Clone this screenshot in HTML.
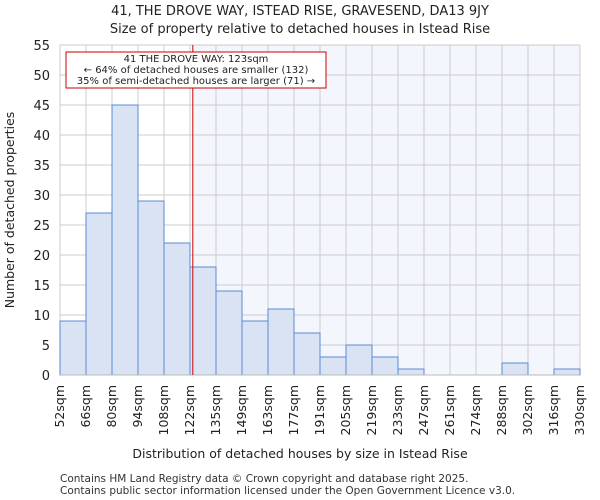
<!DOCTYPE html>
<html><head><meta charset="utf-8"><style>body{margin:0;background:#fff}svg{display:block;font-family:"DejaVu Sans","Liberation Sans",sans-serif}</style></head>
<body>
<svg id="c" width="600" height="500">
<text x="300" y="15" text-anchor="middle" font-size="13" fill="#222">41, THE DROVE WAY, ISTEAD RISE, GRAVESEND, DA13 9JY</text>
<text x="300" y="33" text-anchor="middle" font-size="13" fill="#222">Size of property relative to detached houses in Istead Rise</text>
<text x="300" y="458" text-anchor="middle" font-size="12.5" fill="#222">Distribution of detached houses by size in Istead Rise</text>
<text transform="translate(14,210) rotate(-90)" text-anchor="middle" font-size="12.5" fill="#222">Number of detached properties</text>
<text x="60" y="482" font-size="10.5" fill="#333">Contains HM Land Registry data © Crown copyright and database right 2025.</text>
<text x="60" y="494" font-size="10.5" fill="#333">Contains public sector information licensed under the Open Government Licence v3.0.</text>
<g id="plot"></g>
</svg>
<script>
const labels=["52sqm","66sqm","80sqm","94sqm","108sqm","122sqm","135sqm","149sqm","163sqm","177sqm","191sqm","205sqm","219sqm","233sqm","247sqm","261sqm","274sqm","288sqm","302sqm","316sqm","330sqm"];
const counts=[9,27,45,29,22,18,14,9,11,7,3,5,3,1,0,0,0,2,0,1];
const yTicks=[0,5,10,15,20,25,30,35,40,45,50,55];
const binStart=52, binWidth=13.9, propertySize=123;
const X0=60,X1=580,Y0=375,YT=45,YMAX=55;
const nb=counts.length, bw=(X1-X0)/nb;
const xb=i=>X0+i*bw;
const xs=s=>X0+(s-binStart)/binWidth*bw;
const y=v=>Y0-(Y0-YT)*v/YMAX;
const g=document.getElementById('plot');const NS="http://www.w3.org/2000/svg";
function mk(t,a){const e=document.createElementNS(NS,t);for(const k in a)e.setAttribute(k,a[k]);g.appendChild(e);return e;}
const rx=xs(propertySize);
let e=mk('rect',{x:rx,y:YT,width:X1-rx,height:Y0-YT,fill:'#f3f6fd'});


yTicks.forEach(t=>{let l=mk('line',{x1:X0,x2:X1,y1:y(t),y2:y(t),stroke:'#cccccc'});


let tx=mk('text',{x:X0-10,y:y(t)+5,'text-anchor':'end','font-size':13,fill:'#222'});tx.textContent=t;

});
labels.forEach((s,i)=>{let l=mk('line',{x1:xb(i),x2:xb(i),y1:YT,y2:Y0,stroke:'#cccccc'});


let tx=mk('text',{transform:`translate(${xb(i)+4},${Y0+10}) rotate(-90)`,'text-anchor':'end','font-size':12.5,fill:'#222'});tx.textContent=s;

});
counts.forEach((c,i)=>{if(!c)return;let r=mk('rect',{x:xb(i),y:y(c),width:bw,height:Y0-y(c),fill:'#dae3f3',stroke:'#5b8bd4','stroke-width':1});

});
let ax=mk('line',{x1:X0,x2:X1,y1:Y0,y2:Y0,stroke:'#bbb'});


let rl=mk('line',{x1:rx,x2:rx,y1:YT,y2:Y0,stroke:'#cc0000','stroke-width':1});


let box=mk('rect',{x:66,y:52,width:260,height:36,fill:'#fff',stroke:'#cc0000'});


["41 THE DROVE WAY: 123sqm","← 64% of detached houses are smaller (132)","35% of semi-detached houses are larger (71) →"].forEach((s,i)=>{let t=mk('text',{x:196,y:62+i*11,'text-anchor':'middle','font-size':10,fill:'#222'});t.textContent=s;

});
</script>
</body></html>
